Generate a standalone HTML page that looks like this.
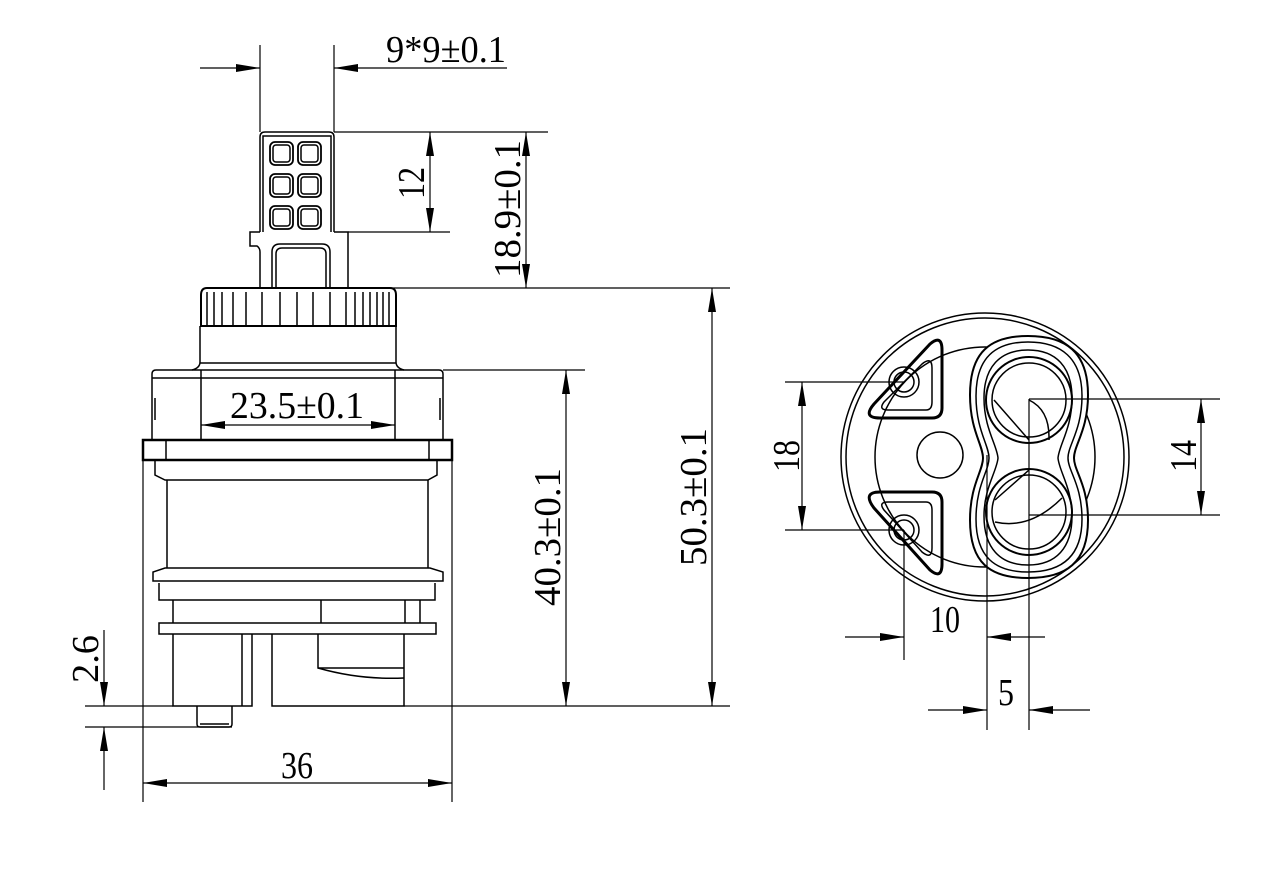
<!DOCTYPE html>
<html><head><meta charset="utf-8"><style>html,body{margin:0;padding:0;background:#fff}svg{display:block}</style></head><body>
<svg width="1280" height="881" viewBox="0 0 1280 881" xmlns="http://www.w3.org/2000/svg">
<defs>
<marker id="a" viewBox="0 0 24 8" refX="24" refY="4" markerWidth="24" markerHeight="8" markerUnits="userSpaceOnUse" orient="auto"><path d="M0,0 L24,4 L0,8 Z" fill="#000"/></marker>
</defs>
<rect width="1280" height="881" fill="#fff"/>
<g fill="none" stroke="#000" stroke-width="1.5">
<!-- stem -->
<path d="M260,232 V137 Q260,132 265,132 H329 Q334,132 334,137 V232"/>
<path d="M263,232 V136 H331 V232"/>
<g stroke-width="1.8">
<rect x="270" y="142" width="23" height="23" rx="5"/><rect x="298" y="142" width="23" height="23" rx="5"/>
<rect x="270" y="174" width="23" height="23" rx="5"/><rect x="298" y="174" width="23" height="23" rx="5"/>
<rect x="270" y="206" width="23" height="23" rx="5"/><rect x="298" y="206" width="23" height="23" rx="5"/>
</g>
<rect x="273" y="145" width="17" height="17" rx="3"/><rect x="301" y="145" width="17" height="17" rx="3"/>
<rect x="273" y="177" width="17" height="17" rx="3"/><rect x="301" y="177" width="17" height="17" rx="3"/>
<rect x="273" y="209" width="17" height="17" rx="3"/><rect x="301" y="209" width="17" height="17" rx="3"/>
<path d="M260,232 H250 V246 H257 Q260,248 260,252 V288"/>
<path d="M334,232 H348 V288"/>
<path d="M272,288 V252 Q272,244 280,244 H322 Q330,244 330,252 V288"/>
<path d="M276,288 V254 Q276,248 282,248 H320 Q326,248 326,254 V288"/>
<!-- crown -->
<path d="M201,326 V295 Q201,288 207,288 H390 Q396,288 396,295 V326 Z" stroke-width="2"/>
<path d="M207,326 V292 M214,326 V292 M222,326 V292 M233,326 V292 M246,326 V292 M262,326 V292 M280,326 V292 M297,326 V292 M313,326 V292 M330,326 V292 M346,326 V292 M355,326 V292 M363,326 V292 M370,326 V292 M377,326 V292 M383,326 V292 M389,326 V292"/>
<path d="M200,326 V362 Q200,368 192,370 M396,326 V362 Q396,368 404,370 M200,363 H396"/>
<!-- upper flange -->
<path d="M152,440 V374 Q152,370 156,370 H439 Q443,370 443,374 V440"/>
<path d="M152,378 H443 M155,398 V420 M440,398 V420"/>
<path d="M201,370 V440 M395,370 V440"/>
<rect x="143" y="440" width="309" height="20" stroke-width="2.5"/>
<path d="M166,440 V460 M429,440 V460"/>
<path d="M155,460 V475 L165,480 H428 L437,475 V460"/>
<path d="M167,480 V568 M428,480 V568"/>
<path d="M165,568 H430 L443,572 V581 H153 V572 Z"/>
<path d="M159,583 V600 H435 V583"/>
<path d="M173,600 V623 M420,600 V623 M321,600 V623 M405,600 V623"/>
<rect x="159" y="623" width="277" height="11"/>
<path d="M173,634 V706 H252 V634 M242,634 V706"/>
<path d="M272,634 V706 H404 V634"/>
<path d="M318,634 V668 Q360,680 404,678"/>
<path d="M318,668 H404"/>
<path d="M197,706 V724 Q197,727 200,727 H229 Q232,727 232,724 V706"/>
<path d="M200,724 H229"/>
<!-- right view -->
<circle cx="985" cy="457" r="144"/>
<circle cx="985" cy="457" r="139"/>
<circle cx="985" cy="457" r="110"/>
<circle cx="940" cy="455" r="23"/>
<path d="M1028,336 C990,336 970,352 970,395 C970,430 983,445 983,458 C983,471 970,485 970,520 C970,563 990,578 1028,578 C1066,578 1088,563 1088,520 C1088,485 1074,471 1074,458 C1074,445 1088,430 1088,395 C1088,352 1066,336 1028,336 Z" stroke-width="2" fill="#fff"/>
<path d="M1028,342 C995,342 976,358 976,396 C976,430 989,445 989,458 C989,471 976,485 976,519 C976,557 995,572 1028,572 C1061,572 1082,557 1082,519 C1082,485 1068,471 1068,458 C1068,445 1082,430 1082,396 C1082,358 1061,342 1028,342 Z"/>
<path d="M1028,350 C1000,350 984,367 984,398 C984,428 997,445 998,458 C997,471 984,488 984,516 C984,548 1000,565 1028,565 C1056,565 1072,548 1072,516 C1072,488 1059,471 1058,458 C1059,445 1072,428 1072,398 C1072,367 1056,350 1028,350 Z"/>
<circle cx="1029" cy="400" r="43" stroke-width="2"/>
<circle cx="1029" cy="400" r="37"/>
<circle cx="1029" cy="512" r="43" stroke-width="2"/>
<circle cx="1029" cy="512" r="37"/>
<path d="M994,400 L1029,440 M1029,400 Q1050,410 1049,440 M995,500 L1029,470 M995,522 Q1030,530 1062,498"/>
<!-- bosses -->
<path d="M874,404 Q862,418 880,418 H932 Q942,418 942,408 V350 Q942,334 930,344 Z" stroke-width="3" stroke-linejoin="round"/>
<path d="M884,402 Q878,410 888,410 H926 Q932,410 932,402 V368 Q932,356 922,364 Z"/>
<circle cx="904" cy="382" r="15"/><circle cx="904" cy="382" r="10"/>
<path d="M874,508 Q862,492 880,492 H932 Q942,492 942,502 V564 Q942,580 930,570 Z" stroke-width="3" stroke-linejoin="round"/>
<path d="M884,510 Q878,502 888,502 H926 Q932,502 932,510 V548 Q932,560 922,552 Z"/>
<circle cx="904" cy="530" r="15"/><circle cx="904" cy="530" r="10"/>
</g>
<!-- dimensions -->
<g fill="none" stroke="#000" stroke-width="1.2">
<path d="M260,45 V132 M334,45 V132"/>
<path d="M200,68 H260" marker-end="url(#a)"/><path d="M507,68 H334" marker-end="url(#a)"/>
<path d="M334,132 H548 M348,232 H450 M348,288 H548 M396,288 H730"/>
<path d="M430,182 V132" marker-end="url(#a)"/><path d="M430,182 V232" marker-end="url(#a)"/>
<path d="M526,210 V132" marker-end="url(#a)"/><path d="M526,210 V288" marker-end="url(#a)"/>
<path d="M443,370 H585"/>
<path d="M566,530 V370" marker-end="url(#a)"/><path d="M566,530 V706" marker-end="url(#a)"/>
<path d="M712,500 V288" marker-end="url(#a)"/><path d="M712,500 V706" marker-end="url(#a)"/>
<path d="M404,706 H730 M85,706 H173 M85,727 H232"/>
<path d="M298,425 H201" marker-end="url(#a)"/><path d="M298,425 H395" marker-end="url(#a)"/>
<path d="M143,460 V802 M452,460 V802"/>
<path d="M298,783 H143" marker-end="url(#a)"/><path d="M298,783 H452" marker-end="url(#a)"/>
<path d="M104,630 V706" marker-end="url(#a)"/><path d="M104,790 V727" marker-end="url(#a)"/>
<path d="M785,382 H904 M785,530 H904"/>
<path d="M802,456 V382" marker-end="url(#a)"/><path d="M802,456 V530" marker-end="url(#a)"/>
<path d="M1029,399 H1220 M1029,515 H1220 M1029,399 V730"/>
<path d="M1201,456 V399" marker-end="url(#a)"/><path d="M1201,456 V515" marker-end="url(#a)"/>
<path d="M904,530 V660 M987,455 V730"/>
<path d="M845,637 H904" marker-end="url(#a)"/><path d="M1045,637 H987" marker-end="url(#a)"/>
<path d="M928,710 H987" marker-end="url(#a)"/><path d="M1090,710 H1029" marker-end="url(#a)"/>
</g>
<g font-family="'Liberation Serif', serif" font-size="38" fill="#000">
<text x="386" y="62" textLength="120" lengthAdjust="spacingAndGlyphs">9*9±0.1</text>
<text x="230" y="418" textLength="134" lengthAdjust="spacingAndGlyphs">23.5±0.1</text>
<text x="281" y="778" textLength="32" lengthAdjust="spacingAndGlyphs">36</text>
<text x="930" y="632" textLength="30" lengthAdjust="spacingAndGlyphs">10</text>
<text x="998" y="705" textLength="16" lengthAdjust="spacingAndGlyphs">5</text>
<text transform="translate(424,199) rotate(-90)" textLength="32" lengthAdjust="spacingAndGlyphs">12</text>
<text transform="translate(520,278) rotate(-90)" textLength="138" lengthAdjust="spacingAndGlyphs">18.9±0.1</text>
<text transform="translate(560,606) rotate(-90)" textLength="138" lengthAdjust="spacingAndGlyphs">40.3±0.1</text>
<text transform="translate(706,566) rotate(-90)" textLength="138" lengthAdjust="spacingAndGlyphs">50.3±0.1</text>
<text transform="translate(98,683) rotate(-90)" textLength="48" lengthAdjust="spacingAndGlyphs">2.6</text>
<text transform="translate(799,472) rotate(-90)" textLength="32" lengthAdjust="spacingAndGlyphs">18</text>
<text transform="translate(1196,472) rotate(-90)" textLength="32" lengthAdjust="spacingAndGlyphs">14</text>
</g>
</svg>
</body></html>
